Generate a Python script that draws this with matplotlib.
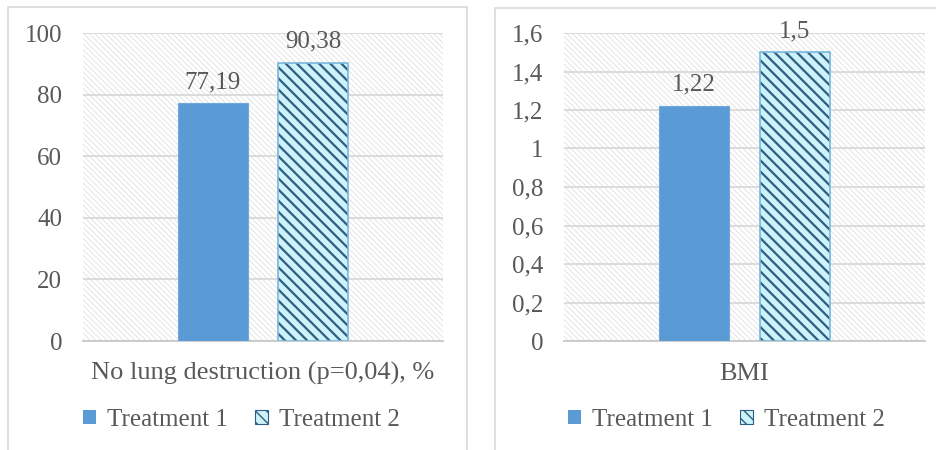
#!/usr/bin/env python3

import matplotlib
matplotlib.use("Agg")
import matplotlib.pyplot as plt
from matplotlib.patches import Rectangle, Patch
from matplotlib.ticker import FuncFormatter, MultipleLocator


# two single-category comparisons, Treatment 1 vs Treatment 2
categories = ["No lung destruction (p=0,04), %", "BMI"]
treatment_1 = [77.19, 1.22]
treatment_2 = [90.38, 1.5]
y_max = [100, 1.6]
y_step = [20, 0.2]
series_names = ["Treatment 1", "Treatment 2"]

TXT = "#595959"
GRID = "#d9d9d9"
BLUE = "#5b9bd5"
HATCH_DARK = "#2f5f80"
HATCH_LIGHT = "#cdf2fa"
HATCH_EDGE = "#7ab8dc"

plt.rcParams["font.family"] = ["Liberation Serif", "DejaVu Serif"]
plt.rcParams["font.size"] = 18


def comma_fmt(v, pos=None):
    s = "{:g}".format(round(v, 6))
    return s.replace(".", ",")


def set_hw(patch, w):
    if hasattr(patch, "set_hatch_linewidth"):
        patch.set_hatch_linewidth(w)


W, H = 937, 450
fig = plt.figure(figsize=(W / 100, H / 100), dpi=100)

# panel frames (cut off by the bottom/right image edge)
fig.patches.append(Rectangle((8 / W, -0.1), 459 / W, 1.1 - 7 / H, transform=fig.transFigure,
                             fill=False, edgecolor=GRID, lw=1.2))
fig.patches.append(Rectangle((495 / W, -0.1), 0.5, 1.1 - 8 / H, transform=fig.transFigure,
                             fill=False, edgecolor=GRID, lw=1.2))

ax_boxes = [(83, 360), (564, 361)]
legend_cx = [241.5, 726.5]
top_px, bot_px = 33, 341

bw = 0.194
off = 0.14

for i in range(2):
    x0, wpx = ax_boxes[i]
    ax = fig.add_axes([x0 / W, 1 - bot_px / H, wpx / W, (bot_px - top_px) / H])
    ax.set_facecolor("white")

    # fine diagonal hatch behind the plot area
    bg = Rectangle((0, 0), 1, 1, transform=ax.transAxes, facecolor="white",
                   edgecolor="#d9d9d9", hatch="\\" * 6, lw=0, zorder=0)
    set_hw(bg, 0.5)
    ax.add_patch(bg)

    ax.set_xlim(-0.5, 0.5)
    ax.set_ylim(0, y_max[i])
    ax.yaxis.set_major_locator(MultipleLocator(y_step[i]))
    ax.yaxis.set_major_formatter(FuncFormatter(comma_fmt))
    ax.grid(axis="y", color=GRID, lw=1.3, zorder=1)
    ax.set_axisbelow(True)
    ax.set_xticks([])
    ax.tick_params(axis="y", length=0, pad=15, labelcolor=TXT, labelsize=18)
    for s in ["left", "right", "top"]:
        ax.spines[s].set_visible(False)
    ax.spines["bottom"].set_color("#c8c8c8")
    ax.spines["bottom"].set_linewidth(1.3)

    b1 = ax.bar(-off, treatment_1[i], width=bw, color=BLUE, edgecolor="#6fa8dc",
                lw=0.8, zorder=3)
    b2 = ax.bar(off, treatment_2[i], width=bw, color=HATCH_LIGHT, edgecolor=HATCH_DARK,
                hatch="\\" * 3, lw=0, zorder=3)
    for p in b2:
        set_hw(p, 1.6)
    ax.bar(off, treatment_2[i], width=bw, facecolor="none", edgecolor=HATCH_EDGE,
           lw=1.2, zorder=4)

    for x, v in [(-off, treatment_1[i]), (off, treatment_2[i])]:
        ax.annotate(comma_fmt(v), (x, v), xytext=(0, 11), textcoords="offset points",
                    ha="center", va="baseline", color=TXT, fontsize=18)

    ax.annotate(categories[i], (0.5, 0), xycoords="axes fraction", xytext=(0, -28),
                textcoords="offset points", ha="center", va="baseline",
                color=TXT, fontsize=19)

    h1 = Patch(facecolor=BLUE, edgecolor=BLUE, lw=0)
    h2 = Patch(facecolor=HATCH_LIGHT, edgecolor=HATCH_DARK, hatch="\\" * 3, lw=0.8)
    set_hw(h2, 1.2)
    fig.legend([h1, h2], series_names, loc="center",
               bbox_to_anchor=(legend_cx[i] / W, 1 - 420 / H), ncol=2, frameon=False,
               fontsize=18, labelcolor=TXT, handlelength=0.5, handleheight=0.5,
               handletextpad=0.45, columnspacing=1.1, borderpad=0, borderaxespad=0)

fig.savefig("out.png", dpi=100)
